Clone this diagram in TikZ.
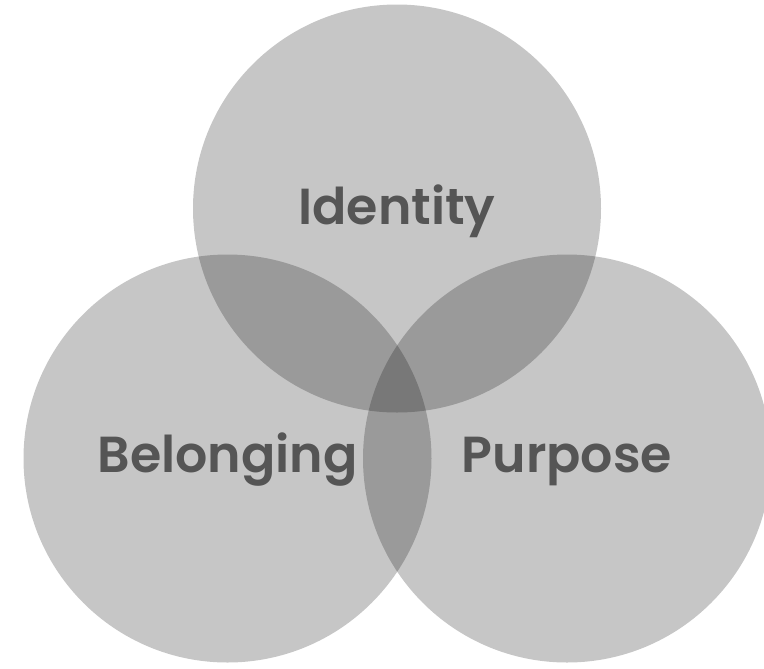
\documentclass[tikz,border=0pt]{standalone}
\usepackage{fontspec}
\setmainfont{Poppins}[BoldFont={Poppins SemiBold}]
\usetikzlibrary{positioning}
\definecolor{labelgray}{HTML}{555555}

\begin{document}
\begin{tikzpicture}[x=0.75pt,y=-0.75pt,
    venn/.style={circle, fill=black, fill opacity=0.224, minimum size=306pt, inner sep=0pt},
    vennlabel/.style={text=labelgray, font=\bfseries\fontsize{38}{38}\selectfont, anchor=base}]
    \useasboundingbox (0,0) rectangle (764,668);
    \clip (0,0) rectangle (764,668);

    % Draw the three circles
    \node[venn] (identity)  at (397,208.5) {};
    \node[venn] (belonging) at (227.5,458.5) {};
    \node[venn] (purpose)   at (567,458.5) {};

    % Labels
    \node[vennlabel] (identitylabel)  at ([yshift=-12pt]identity.center)  {Identity};
    \node[vennlabel] (belonginglabel) at ([yshift=-10.5pt]belonging.center) {Belonging};
    \node[vennlabel] (purposelabel)   at ([yshift=-10.5pt]purpose.center)   {Purpose};
\end{tikzpicture}
\end{document}
